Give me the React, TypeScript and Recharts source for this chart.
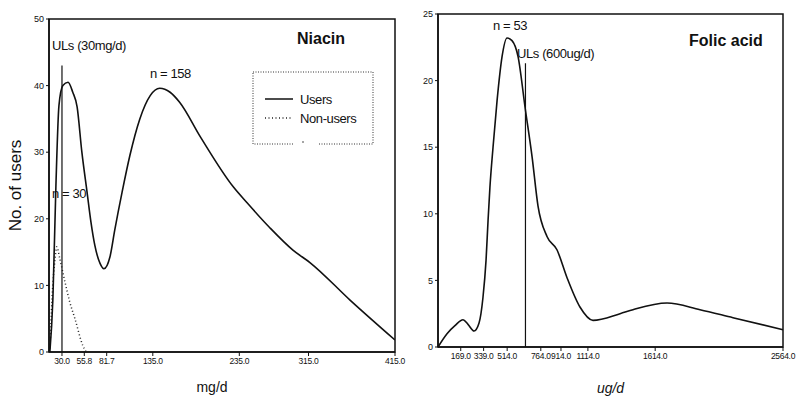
import { LineChart, Line, XAxis, YAxis, ReferenceLine, ReferenceArea } from 'recharts'

// Niacin panel (mg/d)
const niacinDose = [16, 19.5, 23, 26.5, 31, 37, 42.5, 47.5, 53, 59, 63.5, 68, 74, 78.5, 85.5, 91, 99.5, 108.5, 120, 132, 143, 155, 166, 190, 228, 244, 270, 297, 317, 363, 415]
const niacinUsers = [0, 8, 25, 37, 40, 40.5, 39, 36.8, 30, 24, 19.5, 16, 13.3, 12.5, 14.3, 18.3, 24, 29.5, 35, 38.5, 39.6, 39, 37.5, 32.3, 24.8, 22.4, 18.7, 15.3, 13.4, 7.8, 1.8]
const niacinNonUserDose = [16, 18.5, 22, 24, 27.5, 33.5, 39, 45, 54, 58]
const niacinNonUsers = [0, 8, 14, 15.8, 14, 10.5, 7.5, 5, 1, 0]
const niacinTicks = [30, 55.8, 81.7, 135, 235, 315, 415]
const niacinYTicks = [0, 10, 20, 30, 40, 50]
const niacinUL = 30
const niacinULTop = 43

// Folic acid panel (ug/d)
const folateDose = [0, 67, 126, 186, 223, 268, 305, 334, 357, 372, 386, 409, 439, 476, 513, 550, 595, 647, 699, 743, 810, 884, 959, 1055, 1152, 1353, 1449, 1702, 1947, 2192, 2564]
const folateUsers = [0, 1, 1.6, 2.05, 1.7, 1.2, 1.8, 3.7, 6.5, 9.5, 12, 15, 18.5, 21.8, 23.2, 23, 21.8, 18, 14.3, 10.6, 8.3, 7.3, 5.2, 3, 2, 2.5, 2.8, 3.3, 2.8, 2.2, 1.3]
const folateTicks = [169, 339, 514, 764, 914, 1114, 1614, 2564]
const folateYTicks = [0, 5, 10, 15, 20, 25]
const folateUL = 650
const folateULTop = 21.3

const toPoints = (xs: number[], ys: number[]) => xs.map((x, i) => ({ x, y: ys[i] }))

const font = 'Liberation Sans, Arial, sans-serif'
const tickStyle = { fontSize: 9, fill: '#111', fontFamily: font }
const xTickStyle = { fontSize: 8.5, fill: '#111', fontFamily: font, letterSpacing: -0.3 }
const axisLine = { stroke: '#111', strokeWidth: 1.5 }
const fmt = (v: number) => v.toFixed(1)

function NiacinChart() {
  const users = toPoints(niacinDose, niacinUsers)
  const nonUsers = toPoints(niacinNonUserDose, niacinNonUsers)
  return (
    <LineChart width={410} height={406} margin={{ top: 19, right: 15, bottom: 14, left: 0 }}>
      <XAxis type="number" dataKey="x" domain={[15, 415]} ticks={niacinTicks} interval={0}
        tickFormatter={fmt} tick={xTickStyle} tickSize={4} tickLine={{ stroke: '#111' }} axisLine={axisLine}
        height={40} allowDataOverflow
        label={{ value: 'mg/d', position: 'insideBottom', offset: 0, dx: -10, style: { fontSize: 14, fill: '#111', fontFamily: font } }} />
      <YAxis type="number" domain={[0, 50]} ticks={niacinYTicks} interval={0} width={49}
        tick={tickStyle} tickSize={3} tickLine={{ stroke: '#111' }} axisLine={axisLine}
        label={{ value: 'No. of users', angle: -90, position: 'insideLeft', offset: 15, style: { textAnchor: 'middle', fontSize: 17, fill: '#111', fontFamily: font } }} />
      <ReferenceArea x1={15} x2={415} y1={0} y2={50} fill="none" stroke="#111" strokeWidth={1.5} />
      <ReferenceLine segment={[{ x: niacinUL, y: 0 }, { x: niacinUL, y: niacinULTop }]} stroke="#111" strokeWidth={1.2} />
      <Line data={nonUsers} dataKey="y" type="monotone" stroke="#222" strokeWidth={1.5} strokeDasharray="1 2.5" dot={false} isAnimationActive={false} />
      <Line data={users} dataKey="y" type="monotone" stroke="#111" strokeWidth={1.6} dot={false} isAnimationActive={false} />
    </LineChart>
  )
}

function FolateChart() {
  const users = toPoints(folateDose, folateUsers)
  return (
    <LineChart width={397} height={406} margin={{ top: 14, right: 14, bottom: 19, left: 0 }}>
      <XAxis type="number" dataKey="x" domain={[0, 2564]} ticks={folateTicks} interval={0}
        tickFormatter={fmt} tick={xTickStyle} tickSize={4} tickLine={{ stroke: '#111' }} axisLine={axisLine}
        height={40}
        label={{ value: 'ug/d', position: 'insideBottom', offset: -6, style: { fontSize: 14, fill: '#111', fontFamily: font, fontStyle: 'italic' } }} />
      <YAxis type="number" domain={[0, 25]} ticks={folateYTicks} interval={0} width={38}
        tick={tickStyle} tickSize={3} tickLine={{ stroke: '#111' }} axisLine={axisLine} />
      <ReferenceArea x1={0} x2={2564} y1={0} y2={25} fill="none" stroke="#111" strokeWidth={1.5} />
      <ReferenceLine segment={[{ x: folateUL, y: 0 }, { x: folateUL, y: folateULTop }]} stroke="#111" strokeWidth={1.2} />
      <Line data={users} dataKey="y" type="monotone" stroke="#111" strokeWidth={1.6} dot={false} isAnimationActive={false} />
    </LineChart>
  )
}

const note = { fontSize: 13, fill: '#111', fontFamily: font, letterSpacing: -0.4 } as const
const title = { fontSize: 16, fontWeight: 'bold', fill: '#111', fontFamily: font } as const

export default function App() {
  return (
    <div style={{ position: 'absolute', left: 0, top: 0, width: 797, height: 406, background: '#fff', overflow: 'hidden' }}>
      <div style={{ position: 'absolute', left: 0, top: 0 }}>
        <NiacinChart />
      </div>
      <div style={{ position: 'absolute', left: 400, top: 0 }}>
        <FolateChart />
      </div>
      <svg width={797} height={406} style={{ position: 'absolute', left: 0, top: 0, pointerEvents: 'none' }}>
        <text x={52} y={45} dominantBaseline="central" style={note}>ULs (30mg/d)</text>
        <text x={150} y={73} dominantBaseline="central" style={note}>n = 158</text>
        <text x={52} y={193} dominantBaseline="central" style={note}>n = 30</text>
        <text x={297} y={38} dominantBaseline="central" style={title}>Niacin</text>
        <g stroke="#333" strokeWidth={1} strokeDasharray="1 1.5" fill="none">
          <path d="M253 72 H373 V144 H318 M293 144 H253 V72" />
        </g>
        <circle cx={303} cy={142} r={0.8} fill="#333" />
        <line x1={265} x2={293} y1={99} y2={99} stroke="#111" strokeWidth={1.5} />
        <line x1={265} x2={291} y1={118} y2={118} stroke="#222" strokeWidth={1.5} strokeDasharray="1 2.5" />
        <text x={300} y={99} dominantBaseline="central" style={note}>Users</text>
        <text x={300} y={118} dominantBaseline="central" style={note}>Non-users</text>
        <text x={493} y={25} dominantBaseline="central" style={note}>n = 53</text>
        <text x={517} y={53} dominantBaseline="central" style={note}>ULs (600ug/d)</text>
        <text x={689} y={40} dominantBaseline="central" style={title}>Folic acid</text>
      </svg>
    </div>
  )
}
